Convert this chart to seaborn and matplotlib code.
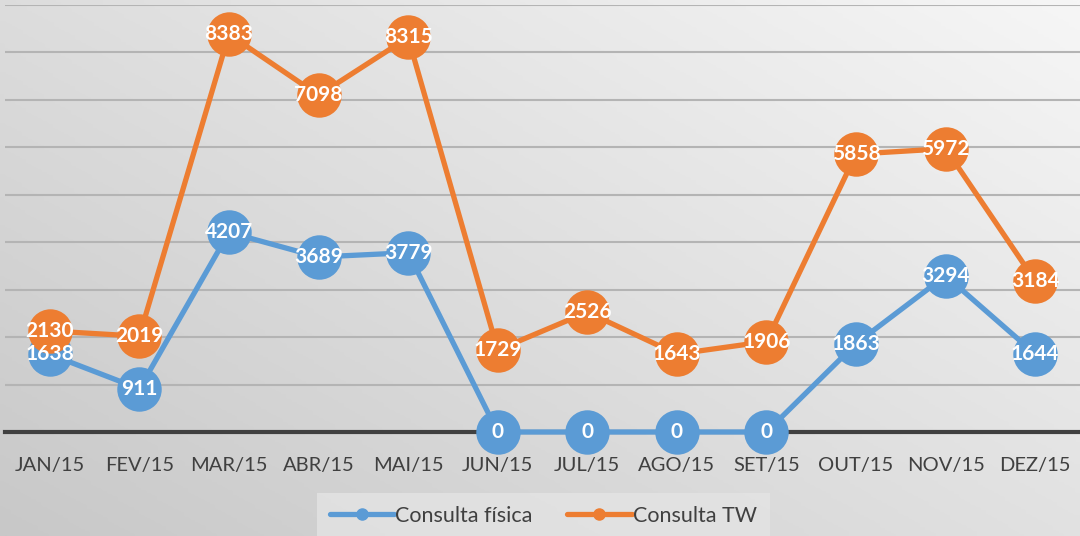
import matplotlib
matplotlib.use("Agg")
import matplotlib.pyplot as plt
import numpy as np
import pandas as pd
import seaborn as sns

months = ["JAN/15", "FEV/15", "MAR/15", "ABR/15", "MAI/15", "JUN/15",
          "JUL/15", "AGO/15", "SET/15", "OUT/15", "NOV/15", "DEZ/15"]
fisica = [1638, 911, 4207, 3689, 3779, 0, 0, 0, 0, 1863, 3294, 1644]
tw = [2130, 2019, 8383, 7098, 8315, 1729, 2526, 1643, 1906, 5858, 5972, 3184]

series_names = ["Consulta física", "Consulta TW"]
colors = ["#5B9BD5", "#ED7D31"]

sns.set_style("white")
plt.rcParams["font.family"] = ["Lato", "DejaVu Sans"]

df = pd.DataFrame({
    "mes": list(range(len(months))) * 2,
    "valor": fisica + tw,
    "serie": [series_names[0]] * len(months) + [series_names[1]] * len(months),
})

fig = plt.figure(figsize=(10.8, 5.36), dpi=100)

# gradient background (light top-right, darker bottom-left)
bg = fig.add_axes([0, 0, 1, 1], zorder=-10)
xx, yy = np.meshgrid(np.linspace(0, 1, 200), np.linspace(0, 1, 200))
grad = 0.55 * xx + 0.45 * (1 - yy)
bg.imshow(grad, cmap=matplotlib.colors.LinearSegmentedColormap.from_list(
    "bg", ["#c8c8c8", "#f6f6f6"]), aspect="auto", extent=[0, 1, 0, 1], origin="upper")
bg.axis("off")

ax = fig.add_axes([5 / 1080, 104 / 536, 1075 / 1080, 427 / 536])
ax.set_facecolor("none")

sns.lineplot(data=df, x="mes", y="valor", hue="serie", palette=colors,
             marker="o", markersize=32, linewidth=3.8, markeredgewidth=0,
             ax=ax, legend=False, clip_on=False, zorder=4)

for vals in (fisica, tw):
    for i, v in enumerate(vals):
        ax.text(i, v, str(v), ha="center", va="center", color="white",
                fontsize=15, fontweight="bold", zorder=10)

ax.set_xlim(-0.5, len(months) - 0.5)
ax.set_ylim(0, 9000)
ax.set_yticks(range(1000, 9001, 1000))
ax.set_yticklabels([])
ax.tick_params(axis="y", length=0)
ax.yaxis.grid(True, color="#b4b4b4", linewidth=1.5)
ax.set_axisbelow(True)
ax.set_xticks(range(len(months)))
ax.set_xticklabels(months, fontsize=14.5, color="#404040")
ax.tick_params(axis="x", length=0, pad=18)
ax.set_xlabel("")
ax.set_ylabel("")
for s in ["top", "right", "left"]:
    ax.spines[s].set_visible(False)
ax.spines["bottom"].set_color("#404040")
ax.spines["bottom"].set_linewidth(3)
ax.spines["bottom"].set_zorder(3)

handles = [plt.Line2D([0], [0], color=c, linewidth=3.8, marker="o", markersize=8)
           for c in colors]
leg = fig.legend(handles, series_names, loc="lower center", ncol=2,
                 bbox_to_anchor=(0.503, -0.025), frameon=True, fontsize=15.5,
                 handlelength=3.0, handletextpad=0.05, columnspacing=1.6,
                 borderpad=0.6, fancybox=False)
leg.get_frame().set_facecolor("#e4e4e4")
leg.get_frame().set_edgecolor("none")
for t in leg.get_texts():
    t.set_color("#404040")

fig.savefig("out.png", dpi=100)
